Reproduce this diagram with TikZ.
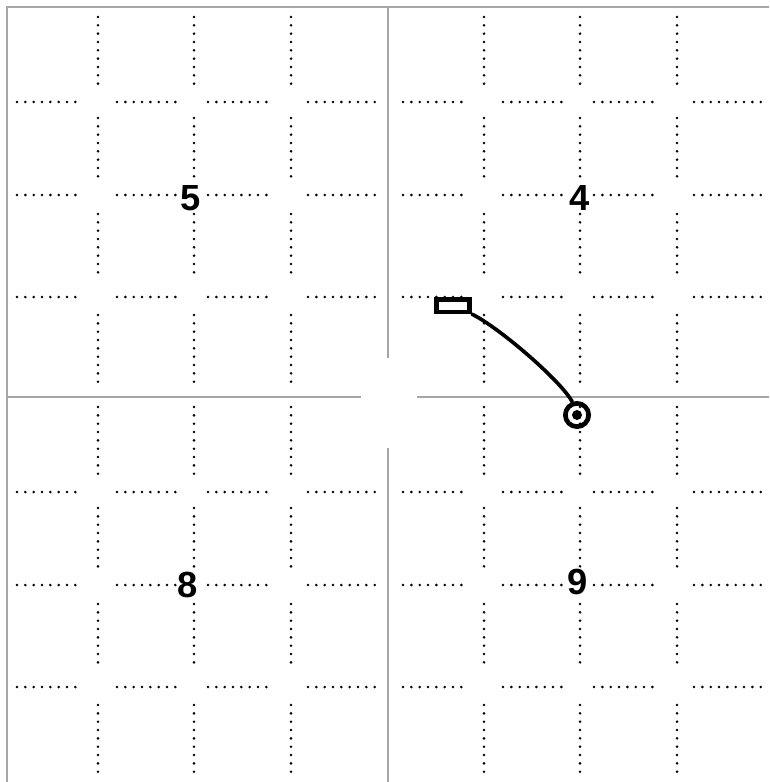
\documentclass[tikz,border=0pt]{standalone}
\usepackage{fontspec}
\setsansfont{Liberation Sans}
\usepackage{tikz}
\usetikzlibrary{positioning}

\begin{document}
\begin{tikzpicture}[x=0.3mm, y=-0.3mm,
    rule/.style={draw=gray!70, line width=0.45mm},
    dots/.style={line width=0.85mm, line cap=round, dash pattern=on 0pt off 2.5mm},
    digit/.style={font=\sffamily\bfseries\fontsize{31}{31}\selectfont, inner sep=0pt},
    flag/.style={rectangle, draw=black, line width=1.4mm, minimum width=10mm, minimum height=3.8mm, inner sep=0pt},
    ring/.style={circle, draw=black, line width=1.4mm, minimum size=7mm, inner sep=0pt}
]
\useasboundingbox (0,0) rectangle (769,782);

% outer frame and dividers
\draw[rule] (769,7) -- (7,7) -- (7,782);
\draw[rule] (388,7) -- (388,358);
\draw[rule] (388,448) -- (388,782);
\draw[rule] (7,397) -- (361,397);
\draw[rule] (417,397) -- (769,397);

% dotted grid, one block per quadrant
\foreach \dx/\dy in {0/0, 386/0, 0/390, 386/390} {
  \begin{scope}[shift={(\dx,\dy)}]
    \foreach \c in {98,194,291}
      \foreach \a/\b in {17/84, 118/178, 214/279, 315/384}
        \draw[dots] (\c,\a) -- (\c,\b);
    \foreach \r in {102,195,297}
      \foreach \a/\b in {17/80, 117/177, 208/274, 308/380}
        \draw[dots] (\a,\r) -- (\b,\r);
  \end{scope}
}

% quadrant numbers
\node[digit] (numFive) at (191,198) {5};
\node[digit] (numFour) at (580,198) {4};
\node[digit] (numEight) at (188,585) {8};
\node[digit] (numNine) at (578,582) {9};

% start marker, end marker and path
\node[flag] (start) at (453,305.5) {};
\node[ring] (finish) at (577,415) {};
\fill (finish.center) circle (1.5mm);
\draw[line width=1.1mm, line cap=round] (start.south east) .. controls (500,328) and (562,382) .. (finish.110);

\end{tikzpicture}
\end{document}
